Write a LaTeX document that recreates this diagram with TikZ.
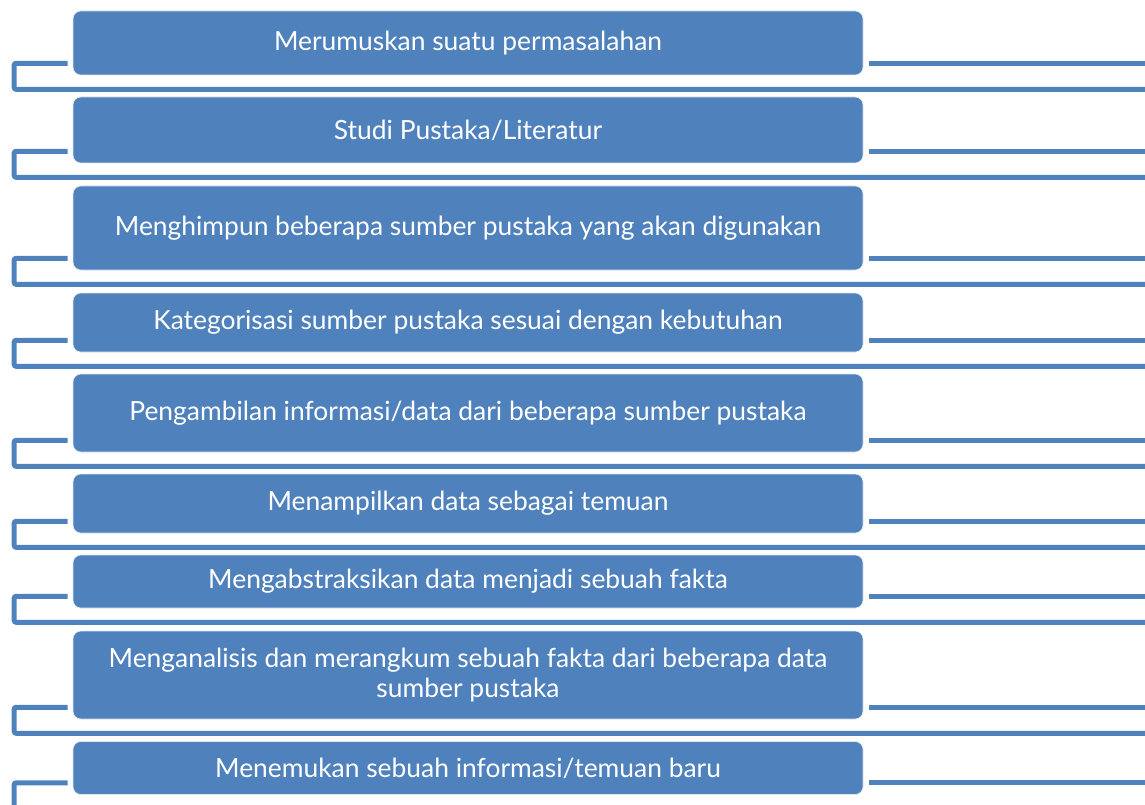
\documentclass[tikz,border=0pt]{standalone}
\usepackage{fontspec}
\setmainfont{Lato}
\definecolor{stepblue}{HTML}{4F81BD}
\tikzset{
  stepbox/.style={rectangle, rounded corners=8pt, fill=stepblue, draw=white!80!stepblue,
    line width=0.6pt, text=white, minimum width=790pt, inner sep=0pt,
    align=center, font=\fontsize{26.4}{30}\selectfont},
  bracket/.style={draw=stepblue, line width=5pt, rounded corners=2pt}
}
\begin{document}
\begin{tikzpicture}[x=1pt,y=-1pt]
        \useasboundingbox (0,0) rectangle (1145,805);
        \clip (0,0) rectangle (1145,805);
        \coordinate (edge) at (1150,0);
        \begin{scope}[every node/.style={stepbox}]
            \node[minimum height=64pt] (s1) at (468,43) {Merumuskan suatu permasalahan};
            \node[minimum height=66pt] (s2) at (468,130) {Studi Pustaka/Literatur};
            \node[minimum height=84pt] (s3) at (468,228) {Menghimpun beberapa sumber pustaka yang akan digunakan};
            \node[minimum height=59pt] (s4) at (468,322.5) {Kategorisasi sumber pustaka sesuai dengan kebutuhan};
            \node[minimum height=78pt] (s5) at (468,413) {Pengambilan informasi/data dari beberapa sumber pustaka};
            \node[minimum height=59pt] (s6) at (468,503.5) {Menampilkan data sebagai temuan};
            \node[minimum height=53pt] (s7) at (468,581.5) {Mengabstraksikan data menjadi sebuah fakta};
            \node[minimum height=88pt] (s8) at (468,675) {Menganalisis dan merangkum sebuah fakta dari beberapa data\\sumber pustaka};
            \node[minimum height=53pt] (s9) at (468,768) {Menemukan sebuah informasi/temuan baru};
        \end{scope}
        % brackets around each step
        \foreach \i in {1,...,9} {
            \draw[bracket] ([shift={(-5pt,12pt)}]s\i.south west) -- ++(-53.5pt,0)
                -- ++(0,-26pt) coordinate (lo\i) -- (lo\i -| edge);
            \draw[bracket] ([shift={(6pt,12pt)}]s\i.south east) coordinate (hi\i) -- (hi\i -| edge);
        }
    \end{tikzpicture}
\end{document}
